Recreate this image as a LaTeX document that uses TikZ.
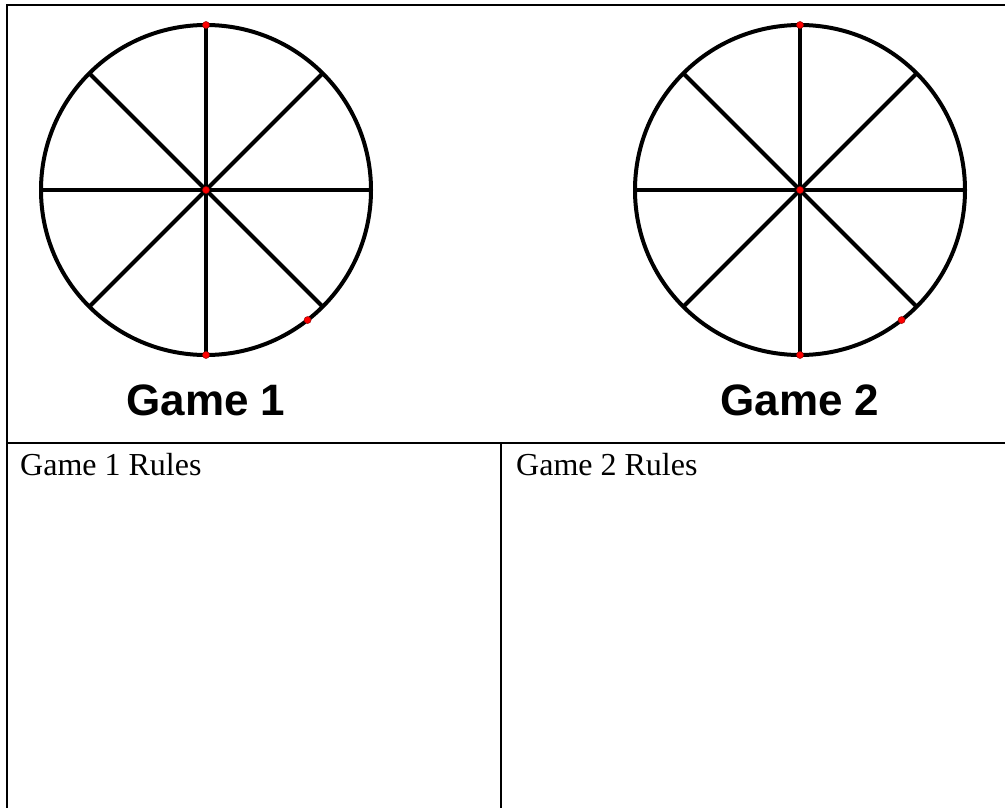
\documentclass[tikz,border=0pt]{standalone}
\usepackage{fontspec}
\setmainfont{Liberation Serif}
\newfontfamily\gamefont{Liberation Sans}
\usepackage{tikz}
\usetikzlibrary{positioning, calc}

\begin{document}
\begin{tikzpicture}[x=1pt, y=-1pt,
    rule/.style={line width=2.4pt, line cap=rect},
    wheel/.style={line width=4pt},
    pin/.style={circle, fill=red, draw=red!60!black, line width=0.5pt, inner sep=0pt, minimum size=7pt},
    title/.style={font=\gamefont\bfseries\fontsize{44}{50}\selectfont, anchor=base},
    rules/.style={font=\fontsize{32}{36}\selectfont, anchor=base west, inner sep=0pt}
]
    \useasboundingbox (0,0) rectangle (1005,808);
    % table
    \draw[rule] (1005,5) -- (7,5) -- (7,808);
    \draw[rule] (7,443) -- (1005,443);
    \draw[rule] (501,443) -- (501,808);
    % spinners
    \foreach \n/\cx in {1/206, 2/800} {
        \coordinate (c\n) at (\cx,190);
        \draw[wheel] (c\n) circle (165);
        \foreach \a in {0,45,...,135} {
            \draw[wheel] ($(c\n)+(\a:165)$) -- ($(c\n)+(\a+180:165)$);
        }
        \node[pin] (top\n) at ($(c\n)+(0,-165)$) {};
        \node[pin] (mid\n) at (c\n) {};
        \node[pin] (bot\n) at ($(c\n)+(0,165)$) {};
        \node[pin] (arc\n) at ($(c\n)+(52:165)$) {};
        \node[title] (game\n) at (\cx,415) {Game \n};
    }
    \node[rules] (rules1) at (20,475) {Game 1 Rules};
    \node[rules] (rules2) at (516,475) {Game 2 Rules};
\end{tikzpicture}
\end{document}
